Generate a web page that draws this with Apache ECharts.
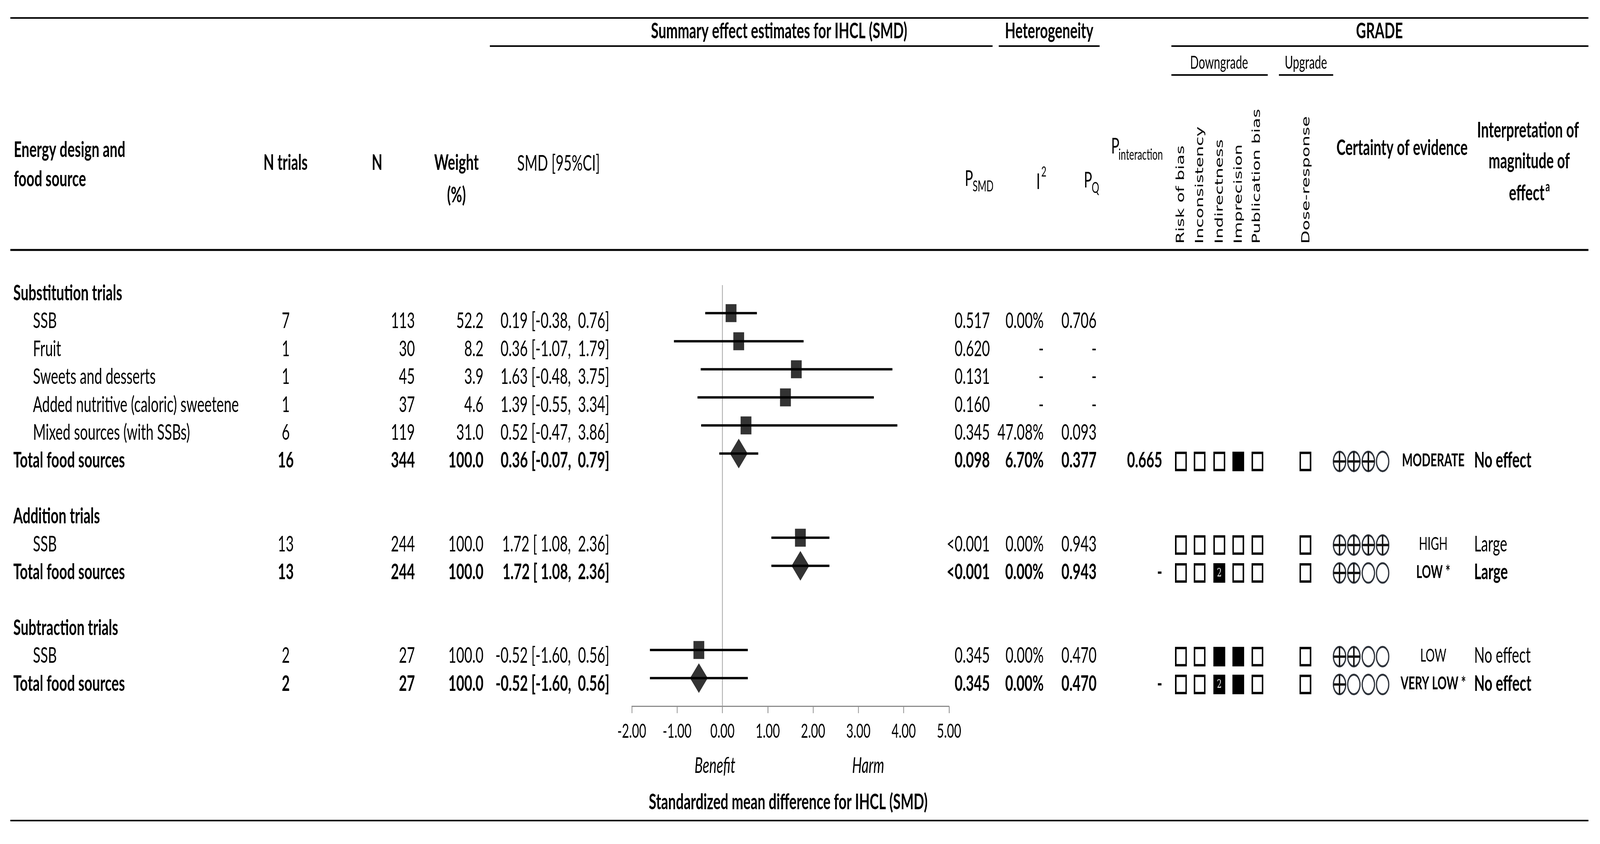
<!DOCTYPE html>
<html><head><meta charset="utf-8">
<script src="https://cdn.jsdelivr.net/npm/echarts@6/dist/echarts.min.js"></script>
<style>html,body{margin:0;padding:0;background:#fff;overflow:hidden}#c{width:6506px;height:2161px;transform-origin:0 0}</style>
</head><body><div id="c"></div>
<script>
// ---------- data ----------
const rowLabels = ['Substitution trials','SSB','Fruit','Sweets and desserts','Added nutritive (caloric) sweetene','Mixed sources (with SSBs)','Total food sources','','Addition trials','SSB','Total food sources','','Subtraction trials','SSB','Total food sources'];
const rowKind = ['group','item','item','item','item','item','total','blank','group','item','total','blank','group','item','total'];
const nTrials = ['','7','1','1','1','6','16','','','13','13','','','2','2'];
const nPart   = ['','113','30','45','37','119','344','','','244','244','','','27','27'];
const weight  = ['','52.2','8.2','3.9','4.6','31.0','100.0','','','100.0','100.0','','','100.0','100.0'];
const smd = [null,0.19,0.36,1.63,1.39,0.52,0.36,null,null,1.72,1.72,null,null,-0.52,-0.52];
const ciLo = [null,-0.38,-1.07,-0.48,-0.55,-0.47,-0.07,null,null,1.08,1.08,null,null,-1.60,-1.60];
const ciHi = [null,0.76,1.79,3.75,3.34,3.86,0.79,null,null,2.36,2.36,null,null,0.56,0.56];
const pSmd = ['','0.517','0.620','0.131','0.160','0.345','0.098','','','<0.001','<0.001','','','0.345','0.345'];
const iSq  = ['','0.00%','-','-','-','47.08%','6.70%','','','0.00%','0.00%','','','0.00%','0.00%'];
const pQ   = ['','0.706','-','-','-','0.093','0.377','','','0.943','0.943','','','0.470','0.470'];
const pInt = ['','','','','','','0.665','','','','-','','','','-'];
// GRADE downgrade domains: 0 = not downgraded, 1 = downgraded, 2 = downgraded by two levels
const downgrade = [null,null,null,null,null,null,[0,0,0,1,0],null,null,[0,0,0,0,0],[0,0,2,0,0],null,null,[0,0,1,1,0],[0,0,2,1,0]];
const doseResponse = [null,null,null,null,null,null,0,null,null,0,0,null,null,0,0];
const certaintyPlus = [null,null,null,null,null,null,3,null,null,4,2,null,null,2,1];
const certaintyLabel = ['','','','','','','MODERATE','','','HIGH','LOW *','','','LOW','VERY LOW *'];
const interpretation = ['','','','','','','No effect','','','Large','Large','','','No effect','No effect'];
const downgradeLabels = ['Risk of bias','Inconsistency','Indirectness','Imprecision','Publication bias'];
const upgradeLabels = ['Dose-response'];

// fit the 6506-wide drawing into the actual window
const el = document.getElementById('c');
const sx = Math.min(1, window.innerWidth / 6506);
el.style.transform = 'scaleX(' + sx + ')';

// ---------- layout ----------
const FF = 'Lato, "Liberation Sans", sans-serif';
const F = 56;
const rowY = i => 751 + i * 71.4;
const G = [];
function T(x, y, s, o) {
  o = o || {};
  G.push({type:'text', x:x, y:y, rotation:o.rot||0, silent:true, z:10,
    style:{text:s, fontSize:o.size||F, fontFamily:o.ff||FF, fontWeight:o.bold?'bold':'normal',
      fontStyle:o.italic?'italic':'normal', fill:o.color||'#000',
      align:o.align||'left', textAlign:o.align||'left', verticalAlign:'middle', textVerticalAlign:'middle'}});
}
function L(x1,y1,x2,y2,w,c){G.push({type:'line',silent:true,shape:{x1,y1,x2,y2},style:{stroke:c||'#000',lineWidth:w}});}
function box(cx, cy, kind) {
  if (kind === 0) {
    G.push({type:'rect',silent:true,shape:{x:cx-21,y:cy-22,width:42,height:44},style:{fill:'#fff',stroke:'#000',lineWidth:6}});
  } else {
    G.push({type:'rect',silent:true,shape:{x:cx-24,y:cy-25,width:48,height:50},style:{fill:'#000'}});
    if (kind === 2) T(cx, cy+1, '2', {size:30, color:'#fff', align:'center', ff:'"DejaVu Serif", serif'});
  }
}
function circ(cx, cy, plus) {
  G.push({type:'circle',silent:true,shape:{cx,cy,r:25},style:{fill:'none',stroke:'#2e333b',lineWidth:5}});
  if (plus) { L(cx, cy-25, cx, cy+25, 6, '#111'); L(cx-25, cy, cx+25, cy, 6, '#111'); }
}

// rules
L(42,46,6459,46,4);
L(1992,118,4036,118,4); L(4061,118,4471,118,4); L(4763,118,6459,118,4);
L(4763,192,5155,192,4); L(5200,192,5421,192,4);
L(42,640,6459,640,5);
L(42,2101,6459,2101,4);

// header texts
T(3168,80,'Summary effect estimates for IHCL (SMD)',{bold:true,align:'center'});
T(4266,80,'Heterogeneity',{bold:true,align:'center'});
T(5609,80,'GRADE',{bold:true,align:'center'});
T(4957,161,'Downgrade',{size:46,align:'center'});
T(5310,161,'Upgrade',{size:46,align:'center'});
T(56,384,'Energy design and',{bold:true});
T(56,459,'food source',{bold:true});
T(1161,417,'N trials',{bold:true,align:'center'});
T(1533,417,'N',{bold:true,align:'center'});
T(1856,417,'Weight',{bold:true,align:'center'});
T(1856,500,'(%)',{bold:true,align:'center'});
T(2103,419,'SMD [95%CI]');
T(3923,458,'P'); T(3955,478,'SMD',{size:38});
T(4214,466,'I'); T(4234,440,'2',{size:36});
T(4407,462,'P'); T(4439,482,'Q',{size:38});
T(4518,375,'P'); T(4548,397,'interaction',{size:38});
const ROTF = '"DejaVu Sans", sans-serif';
[4803,4881,4961,5038,5112].forEach((x,k)=>T(x,624,downgradeLabels[k],{size:44,rot:Math.PI/2,ff:ROTF}));
T(5313,624,upgradeLabels[0],{size:44,rot:Math.PI/2,ff:ROTF});
T(5701,379,'Certainty of evidence',{bold:true,align:'center'});
T(6213,334,'Interpretation of',{bold:true,align:'center'});
T(6218,413,'magnitude of',{bold:true,align:'center'});
T(6208,495,'effect',{bold:true,align:'center'});
T(6284,478,'a',{bold:true,size:36});

// rows
const pad = v => (v < 0 ? v.toFixed(2) : ' ' + v.toFixed(2));
const boxX = [4802,4878,4958,5035,5113];
const circX = [5447,5505,5564,5622];
rowLabels.forEach((lab,i)=>{
  const y = rowY(i), k = rowKind[i];
  if (k === 'blank') return;
  const b = (k === 'group' || k === 'total');
  T(k === 'item' ? 134 : 54, y, lab, {bold:b});
  if (nTrials[i]) T(1162, y, nTrials[i], {bold:b, align:'center'});
  if (nPart[i]) T(1687, y, nPart[i], {bold:b, align:'right'});
  if (weight[i]) T(1966, y, weight[i], {bold:b, align:'right'});
  if (smd[i] !== null) T(2478, y, smd[i].toFixed(2)+' ['+pad(ciLo[i])+', '+pad(ciHi[i])+']', {bold:b, align:'right'});
  if (pSmd[i]) T(4025, y, pSmd[i], {bold:b, align:'right'});
  if (iSq[i]) T(4244, y, iSq[i], {bold:b, align:'right'});
  if (pQ[i]) T(4459, y, pQ[i], {bold:b, align:'right'});
  if (pInt[i]) T(4726, y, pInt[i], {bold:b, align:'right'});
  if (downgrade[i]) downgrade[i].forEach((d,j)=>box(boxX[j], y+2, d));
  if (doseResponse[i] !== null) box(5308, y+2, doseResponse[i]);
  if (certaintyPlus[i] !== null) circX.forEach((x,j)=>circ(x, y+2, j < certaintyPlus[i]));
  if (certaintyLabel[i]) T(5828, y, certaintyLabel[i], {bold:k==='total', align:'center', size:46});
  if (interpretation[i]) T(5994, y, interpretation[i], {bold:k==='total'});
});

// forest axis captions
T(2907,1961,'Benefit',{italic:true,align:'center'});
T(3530,1961,'Harm',{italic:true,align:'center'});
T(3205,2054,'Standardized mean difference for IHCL (SMD)',{bold:true,align:'center'});

// forest series data
const whisk = [], squares = [], diamonds = [];
smd.forEach((v,i)=>{
  if (v === null) return;
  whisk.push([ciLo[i], ciHi[i], i]);
  if (rowKind[i] === 'total') diamonds.push([v, i]); else squares.push([v, i]);
});

const chart = echarts.init(el, null, {width:6506, height:2161});
chart.setOption({
  animation:false,
  backgroundColor:'#fff',
  grid:{left:2569, top:730, width:1290, height:1078},
  xAxis:{type:'value', min:-2, max:5, interval:1, splitLine:{show:false},
    axisLine:{show:true, onZero:false, lineStyle:{color:'#8c8c8c', width:3}},
    axisTick:{show:true, length:18, lineStyle:{color:'#8c8c8c', width:3}},
    axisLabel:{fontSize:50, fontFamily:FF, color:'#000', margin:40, formatter:v=>v.toFixed(2)}},
  yAxis:{type:'value', min:0, max:15, inverse:true, show:false},
  series:[
    {type:'line', data:[[0,0],[0,15]], symbol:'none', silent:true, lineStyle:{color:'#a0a0a0', width:3}, z:1},
    {type:'custom', data:whisk, encode:{x:[0,1], y:2}, silent:true, z:2,
      renderItem:(p,api)=>{
        const a = api.coord([api.value(0), api.value(2)]);
        const b = api.coord([api.value(1), api.value(2)]);
        return {type:'line', shape:{x1:a[0],y1:a[1],x2:b[0],y2:b[1]}, style:{stroke:'#000', lineWidth:6}};
      }},
    {type:'scatter', data:squares, symbol:'rect', symbolSize:[44,46], itemStyle:{color:'#000'}, silent:true, z:3},
    {type:'scatter', data:diamonds, symbol:'diamond', symbolSize:[72,76], itemStyle:{color:'#000'}, silent:true, z:3}
  ],
  graphic:{elements:G}
});
</script></body></html>
